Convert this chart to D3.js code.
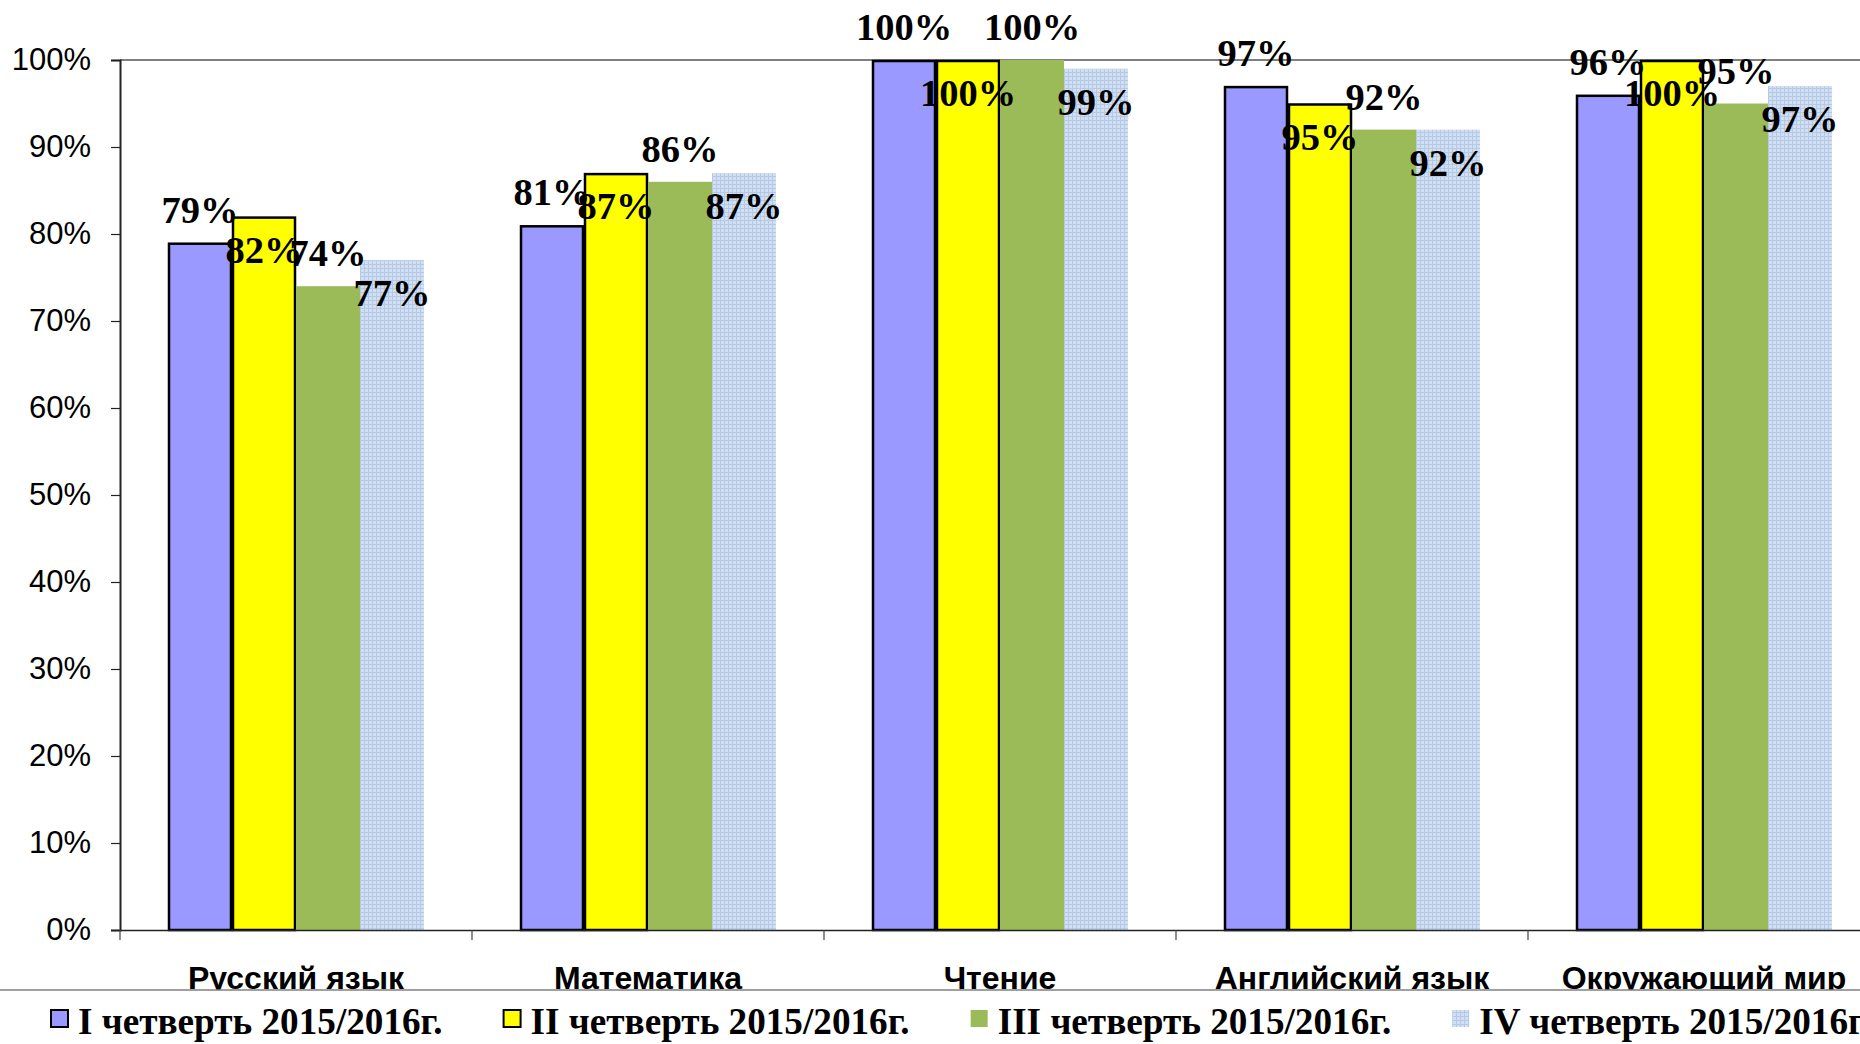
<!DOCTYPE html>
<html><head><meta charset="utf-8">
<script src="https://cdn.jsdelivr.net/npm/d3@7"></script>
<style>html,body{margin:0;padding:0;background:#fff;overflow:hidden}</style>
</head><body>
<svg id="chart" width="1860" height="1044"></svg>
<script>
const categories = ["Русский язык", "Математика", "Чтение", "Английский язык", "Окружающий мир"];
const seriesNames = ["I четверть 2015/2016г.", "II четверть 2015/2016г.", "III четверть 2015/2016г.", "IV четверть 2015/2016г."];
const q1 = [0.79, 0.81, 1.00, 0.97, 0.96];
const q2 = [0.82, 0.87, 1.00, 0.95, 1.00];
const q3 = [0.74, 0.86, 1.00, 0.92, 0.95];
const q4 = [0.77, 0.87, 0.99, 0.92, 0.97];
const yTicks = [0, 0.1, 0.2, 0.3, 0.4, 0.5, 0.6, 0.7, 0.8, 0.9, 1.0];

const seriesValues = [q1, q2, q3, q4];
const svg = d3.select("#chart");
const W = 1860, H = 1044;

// pattern for IV series
const defs = svg.append("defs");
const pat = defs.append("pattern").attr("id", "pBlue").attr("patternUnits", "userSpaceOnUse")
  .attr("width", 4).attr("height", 4);
pat.append("rect").attr("width", 4).attr("height", 4).attr("fill", "#D2DFF0");
pat.append("rect").attr("x", 0).attr("y", 0).attr("width", 4).attr("height", 1).attr("fill", "#B3C9E7");
pat.append("rect").attr("x", 0).attr("y", 0).attr("width", 1).attr("height", 4).attr("fill", "#B3C9E7");

const fills = ["#9999FF", "#FFFF00", "#9BBB59", "url(#pBlue)"];
const strokes = ["#000", "#000", "none", "none"];

const x0 = d3.scaleBand().domain(categories).range([120, 1880]).paddingInner(0).paddingOuter(0);
const x1 = d3.scaleBand().domain(d3.range(4)).range([0, x0.bandwidth()]).paddingInner(0).paddingOuter(0.75);
const y = d3.scaleLinear().domain([0, 1]).range([930, 60]);

// top border line (100%)
svg.append("line").attr("x1", 120).attr("x2", W).attr("y1", y(1)).attr("y2", y(1))
  .attr("stroke", "#808080").attr("stroke-width", 2);

// bars
const groups = svg.append("g").selectAll("g").data(categories).join("g")
  .attr("transform", d => `translate(${x0(d)},0)`);
groups.selectAll("rect").data((d, ci) => seriesValues.map((s, si) => ({si, v: s[ci]})))
  .join("rect")
  .attr("x", d => x1(d.si) + (d.si < 2 ? 1 : 0))
  .attr("width", d => x1.bandwidth() - (d.si < 2 ? 2 : 0))
  .attr("y", d => y(d.v) + (d.si < 2 ? 1 : 0))
  .attr("height", d => y(0) - y(d.v) - (d.si < 2 ? 1 : 0))
  .attr("fill", d => fills[d.si])
  .attr("stroke", d => strokes[d.si])
  .attr("stroke-width", 2.5);

// y axis
const yAxis = d3.axisLeft(y).tickValues(yTicks).tickFormat(d3.format(".0%")).tickSizeOuter(0).tickSize(9).tickPadding(20);
const gy = svg.append("g").attr("transform", "translate(120,0)").call(yAxis);
gy.select(".domain").attr("stroke", "#222").attr("stroke-width", 2);
gy.selectAll(".tick line").attr("stroke", "#222").attr("stroke-width", 1.2);
gy.selectAll("text").attr("font-family", "Liberation Sans, Arial, sans-serif").attr("font-size", 31).attr("fill", "#000");

// x axis
const xAxis = d3.axisBottom(x0).tickSize(0).tickFormat("");
const gx = svg.append("g").attr("transform", "translate(0,930)").call(xAxis);
gx.select(".domain").attr("stroke", "#222").attr("stroke-width", 1.5);
const bounds = categories.map(c => x0(c));
gx.selectAll(".sep").data(bounds).join("line").attr("class", "sep")
  .attr("x1", d => d).attr("x2", d => d).attr("y1", 0).attr("y2", 10)
  .attr("stroke", "#444").attr("stroke-width", 1.2);

// category labels
svg.append("g").selectAll("text").data(categories).join("text")
  .attr("x", d => x0(d) + x0.bandwidth() / 2).attr("y", 989)
  .attr("text-anchor", "middle")
  .attr("font-family", "Liberation Sans, Arial, sans-serif").attr("font-weight", "bold")
  .attr("font-size", 32).attr("fill", "#000").text(d => d);

// data labels
groups.selectAll("text").data((d, ci) => seriesValues.map((s, si) => ({si, v: s[ci]})))
  .join("text")
  .attr("x", d => x1(d.si) + x1.bandwidth() / 2)
  .attr("y", d => d.si % 2 === 0 ? y(d.v) - 20 : y(d.v) + 46)
  .attr("text-anchor", "middle")
  .attr("font-family", "Liberation Serif, Times New Roman, serif").attr("font-weight", "bold")
  .attr("font-size", 38.5).attr("fill", "#000")
  .text(d => d3.format(".0%")(d.v));

// legend
const lg = svg.append("g");
lg.append("rect").attr("x", 0).attr("y", 990).attr("width", W).attr("height", H - 990).attr("fill", "#fff");
lg.append("line").attr("x1", 0).attr("x2", W).attr("y1", 990).attr("y2", 990).attr("stroke", "#808080").attr("stroke-width", 1.5);
let lx = 50;
seriesNames.forEach((name, i) => {
  lg.append("rect").attr("x", lx + 1).attr("y", 1010).attr("width", 17).attr("height", 17)
    .attr("fill", fills[i]).attr("stroke", strokes[i]).attr("stroke-width", 2);
  const t = lg.append("text").attr("x", lx + 28).attr("y", 1034)
    .attr("font-family", "Liberation Serif, Times New Roman, serif").attr("font-weight", "bold")
    .attr("font-size", 37.2).attr("fill", "#000").text(name);
  const w = t.node().getComputedTextLength();
  lx = lx + 28 + w + 60;
});
</script>
</body></html>
